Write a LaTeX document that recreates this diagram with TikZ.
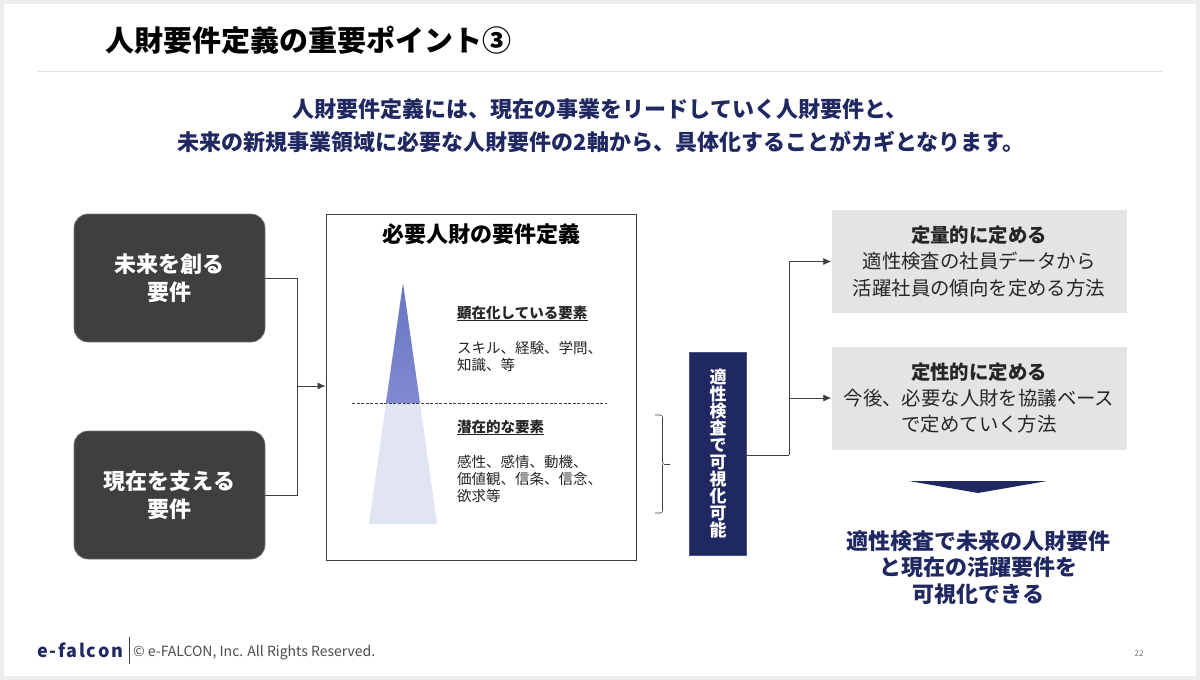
\documentclass[tikz,border=0pt]{standalone}
\usepackage{fontspec}
\setmainfont{Noto Sans CJK JP}
\usetikzlibrary{arrows.meta}
\definecolor{navy}{HTML}{1F2860}
\definecolor{darkbox}{HTML}{3F3F3F}
\definecolor{greybox}{HTML}{E4E4E4}
\definecolor{linegrey}{HTML}{404040}
\definecolor{txt}{HTML}{262626}
\definecolor{triup}{HTML}{7F8AD0}
\definecolor{tritop}{HTML}{6A75C4}
\definecolor{trilow}{HTML}{E1E4F3}
\newcommand{\fs}[1]{\fontsize{#1pt}{#1pt}\selectfont}
\tikzset{
  x=1pt,y=-1pt,
  req/.style={draw=linegrey!70,line width=.6pt,fill=darkbox,rounded corners=14pt,text=white,align=center,font=\fs{22}\bfseries,minimum width=191pt,minimum height=128pt,inner sep=0pt},
  gbox/.style={fill=greybox,minimum width=295pt,minimum height=103pt,align=center,text=txt,font=\fs{19.4},inner sep=0pt},
  conn/.style={draw=linegrey,line width=.7pt},
  arr/.style={conn,-{Latex[length=8pt,width=7pt]}},
  head/.style={text=navy,font=\fs{22}\bfseries,inner sep=0pt},
  concl/.style={text=navy,font=\fs{22}\bfseries,inner sep=0pt},
  subh/.style={anchor=west,text=txt,font=\fs{14.5}\bfseries,inner sep=0pt},
  body/.style={anchor=west,text=txt,font=\fs{14.5},inner sep=0pt},
}
\begin{document}
\begin{tikzpicture}
\useasboundingbox (0,0) rectangle (1200,680);
\fill[black!7] (0,0) rectangle (1200,680);
\fill[white] (4,4) rectangle (1196,676);
\node[anchor=west,inner sep=0pt,font=\fs{29}\bfseries,text=black] (title) at (105,40) {人財要件定義の重要ポイント③};
\coordinate (rl) at (38,71); \coordinate (rr) at (1162,71);
\draw[black!12,line width=.8pt] (rl) -- (rr);
\node[head] (h1) at (600,109) {人財要件定義には、現在の事業をリードしていく人財要件と、};
\node[head] (h2) at (601,142) {未来の新規事業領域に必要な人財要件の2軸から、具体化することがカギとなります。};
% left boxes
\node[req] (fut) at (169.5,278) {未来を創る\\[6.5pt]要件};
\node[req] (pre) at (169.5,495) {現在を支える\\[6.5pt]要件};
% centre panel
\node[draw=linegrey,line width=.8pt,fill=white,minimum width=310pt,minimum height=346pt,inner sep=0pt] (panel) at (481,387) {};
\node[inner sep=0pt,font=\fs{22}\bfseries,text=black] (ptitle) at (481,234) {必要人財の要件定義};
% pyramid
\fill[trilow] (386,403) -- (420,403) -- (437,524) -- (369,524) -- cycle;
\shade[top color=tritop,bottom color=triup] (403,283) -- (420,403) -- (386,403) -- cycle;
\coordinate (dl) at (352,403.5); \coordinate (dr) at (607,403.5);
\draw[linegrey,line width=.6pt,dash pattern=on 3pt off 1.6pt] (dl) -- (dr);
\node[subh] (s1) at (457,313.5) {顕在化している要素};
\draw[txt,line width=.7pt] (457,320.5) -- (587.5,320.5);
\node[body] (b1a) at (457,347.5) {スキル、経験、学問、};
\node[body] (b1b) at (457,364.5) {知識、等};
\node[subh] (s2) at (457,427.5) {潜在的な要素};
\draw[txt,line width=.7pt] (457,434.5) -- (544,434.5);
\node[body] (b2a) at (457,461.5) {感性、感情、動機、};
\node[body] (b2b) at (457,478.5) {価値観、信条、信念、};
\node[body] (b2c) at (457,495.5) {欲求等};
% merge connector
\coordinate (m) at (297,386);
\draw[conn] (fut.east) -| (m);
\draw[conn] (pre.east) -| (m);
\draw[arr] (m) -- (m -| panel.west);
% brace
\coordinate (bt) at (655,415); \coordinate (bb) at (655,513); \coordinate (bm) at (670,464.5);
\draw[linegrey,line width=.6pt,rounded corners=2.5pt] (bt) -- (662.5,415) -- (662.5,464.5) -- (bm);
\draw[linegrey,line width=.6pt,rounded corners=2.5pt] (bb) -- (662.5,513) -- (662.5,464.5);
% vertical box
\node[fill=navy,draw=navy!80,line width=.5pt,minimum width=57pt,minimum height=203pt,inner sep=0pt,text=white,align=center,font=\fs{17}\bfseries] (vb) at (717.5,453.5)
 {\baselineskip=17.4pt \hspace*{1pt}適\\\hspace*{1pt}性\\\hspace*{1pt}検\\\hspace*{1pt}査\\\hspace*{1pt}で\\\hspace*{1pt}可\\\hspace*{1pt}視\\\hspace*{1pt}化\\\hspace*{1pt}可\\\hspace*{1pt}能};
% right boxes
\node[gbox] (q1) at (979,261.5) {\textbf{定量的に定める}\\[7pt]適性検査の社員データから\\[7pt]活躍社員の傾向を定める方法};
\node[gbox] (q2) at (979,398) {\textbf{定性的に定める}\\[6.5pt]今後、必要な人財を協議ベース\\[6.5pt]で定めていく方法};
\coordinate (j) at (789,455);
\draw[conn] (vb.east |- j) -- (j);
\draw[arr] (j) |- (q1.west);
\draw[arr] (j) |- (q2.west);
% down arrow
\fill[navy] (909,481) -- (1047,481) -- (978,493) -- cycle;
\node[concl] (c1) at (978.5,541) {適性検査で未来の人財要件};
\node[concl] (c2) at (978.5,567) {と現在の活躍要件を};
\node[concl] (c3) at (978.5,594) {可視化できる};
% footer
\node[anchor=west,inner sep=0pt,text=navy,font=\fs{18}\bfseries,text height=12pt] (logo) at (37,652) {e\kern1.6pt-\kern1.6pt f\kern1.6pt a\kern1.6pt l\kern1.6pt c\kern1.6pt o\kern1.6pt n};
\coordinate (vt) at (129.5,637); \coordinate (vb2) at (129.5,664);
\draw[linegrey,line width=.7pt] (vt) -- (vb2);
\node[anchor=west,inner sep=0pt,text=black!70,font=\fs{14}] (copy) at (133,652.5) {© e-FALCON, Inc. All Rights Reserved.};
\node[inner sep=0pt,text=black!55,font=\fs{8}] (pg) at (1139,654) {22};
\end{tikzpicture}
\end{document}
